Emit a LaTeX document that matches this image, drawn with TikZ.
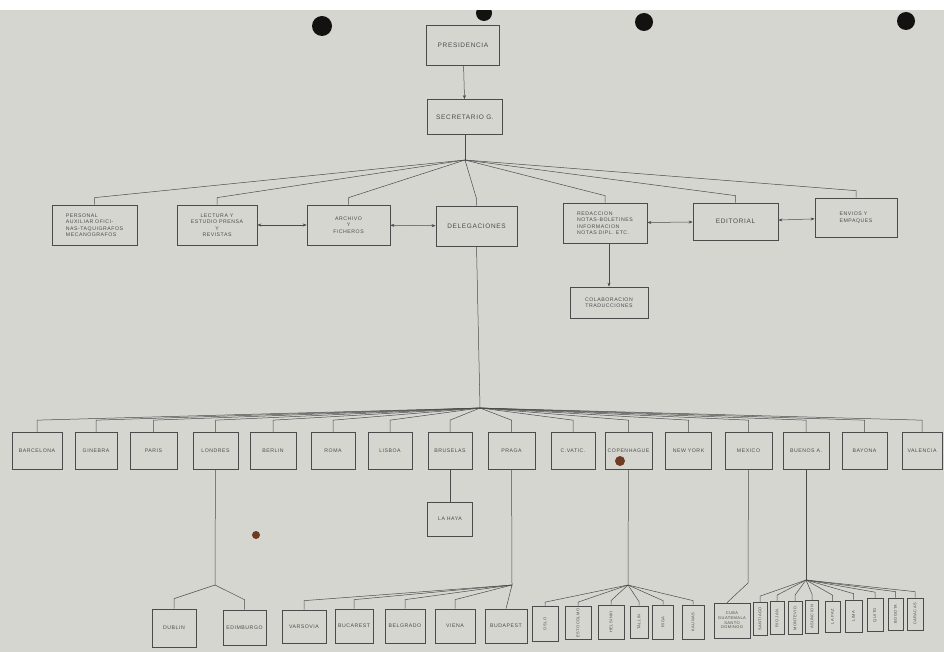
\documentclass[tikz,border=0pt]{standalone}
\usepackage{fontspec}
\setmainfont{Liberation Sans}[LetterSpace=10]
\usepackage{graphicx}
\usetikzlibrary{arrows.meta}
\definecolor{paper}{RGB}{214,214,209}
\definecolor{ink}{RGB}{75,75,75}
\definecolor{hole}{RGB}{20,18,16}
\definecolor{stain}{RGB}{110,60,35}
\tikzset{
  box/.style={draw=ink, line width=0.7pt, text=ink, inner sep=1pt, align=center, font=\fontsize{5.2}{6.5}\selectfont},
  bigbox/.style={box, font=\fontsize{6.5}{8}\selectfont},
  tinybox/.style={box, font=\fontsize{4}{4.6}\selectfont},
  con/.style={draw=ink, line width=0.5pt},
  onearrow/.style={con, -{Stealth[length=4pt,width=3pt]}},
  biarrow/.style={con, {Stealth[length=4pt,width=3pt]}-{Stealth[length=4pt,width=3pt]}},
}
\begin{document}
\begin{tikzpicture}[x=1pt,y=-1pt]
\fill[paper] (0,0) rectangle (944,652);
\useasboundingbox (0,0) rectangle (944,652);
% punch holes and stains
\fill[hole] (322,26) circle (10);
\fill[hole] (484,13) circle (8);
\fill[hole] (644,22) circle (9);
\fill[hole] (906,21) circle (9);
\fill[white] (0,0) rectangle (944,10);
\fill[stain] (256,535) circle (4);

% top
\node[bigbox, minimum width=73, minimum height=40] (pres) at (463,45) {PRESIDENCIA};
\node[bigbox, minimum width=75, minimum height=35] (sec) at (465,117) {SECRETARIO G.};
\draw[onearrow] (pres) -- (sec);
\coordinate (j1) at (465,160);
\draw[con] (sec) -- (j1);

% row 1
\node[box, minimum width=85, minimum height=40, align=left] (pers) at (94.5,225) {PERSONAL\\AUXILIAR OFICI-\\NAS-TAQUIGRAFOS\\MECANOGRAFOS};
\node[box, minimum width=80, minimum height=40] (lect) at (217,225) {LECTURA Y\\ESTUDIO PRENSA\\Y\\REVISTAS};
\node[box, minimum width=83, minimum height=40] (arch) at (348.5,225) {ARCHIVO\\Y\\FICHEROS};
\node[bigbox, minimum width=81, minimum height=40] (deleg) at (476.5,226) {DELEGACIONES};
\node[box, minimum width=84, minimum height=40, align=left] (redac) at (605,223) {REDACCION\\NOTAS-BOLETINES\\INFORMACION\\NOTAS DIPL. ETC.};
\node[bigbox, minimum width=85, minimum height=37] (edit) at (735.5,221.5) {EDITORIAL};
\node[box, minimum width=82, minimum height=39, align=left] (envios) at (856,217.5) {ENVIOS Y\\EMPAQUES};
\node[box, minimum width=78, minimum height=31] (colab) at (609,302.5) {COLABORACION\\TRADUCCIONES};

\foreach \n in {pers,lect,arch,deleg,redac,edit,envios}
  \draw[con] (j1) -- ([yshift=7pt]\n.north) -- (\n.north);
\draw[biarrow] (lect) -- (arch);
\draw[biarrow] (arch) -- (deleg);
\draw[biarrow] (redac) -- (edit);
\draw[biarrow] (edit) -- (envios);
\draw[onearrow] (redac.south -| colab.north) -- (colab.north);

% delegations
\coordinate (j2) at (480,408);
\draw[con] (deleg.south |- 0,246) -- (j2);
\node[box, minimum width=50, minimum height=37] (bar) at (37,451) {BARCELONA};
\node[box, minimum width=42, minimum height=37] (gin) at (96,451) {GINEBRA};
\node[box, minimum width=47, minimum height=37] (par) at (153.5,451) {PARIS};
\node[box, minimum width=45, minimum height=37] (lon) at (215.5,451) {LONDRES};
\node[box, minimum width=46, minimum height=37] (ber) at (273,451) {BERLIN};
\node[box, minimum width=44, minimum height=37] (rom) at (333,451) {ROMA};
\node[box, minimum width=44, minimum height=37] (lis) at (390,451) {LISBOA};
\node[box, minimum width=44, minimum height=37] (bru) at (450,451) {BRUSELAS};
\node[box, minimum width=47, minimum height=37] (pra) at (511.5,451) {PRAGA};
\node[box, minimum width=44, minimum height=37] (cva) at (573,451) {C.VATIC.};
\node[box, minimum width=47, minimum height=37] (cop) at (628.5,451) {COPENHAGUE};
\node[box, minimum width=46, minimum height=37] (ny) at (688.5,451) {NEW YORK};
\node[box, minimum width=47, minimum height=37] (mex) at (748.5,451) {MEXICO};
\node[box, minimum width=46, minimum height=37] (bue) at (806,451) {BUENOS A.};
\node[box, minimum width=45, minimum height=37] (bay) at (864.5,451) {BAYONA};
\node[box, minimum width=40, minimum height=37] (val) at (922,451) {VALENCIA};
\foreach \n in {bar,gin,par,lon,ber,rom,lis,bru,pra,cva,cop,ny,mex,bue,bay,val}
  \draw[con] (j2) -- ([yshift=12pt]\n.north) -- (\n.north);
\fill[stain] (620,461) circle (5);

% Bruselas
\node[box, minimum width=45, minimum height=34] (hay) at (450,519) {LA HAYA};
\draw[con] (bru) -- (hay);

% Londres
\coordinate (j3) at (215,585);
\draw[con] (lon) -- (j3);
\node[box, minimum width=44, minimum height=38] (dub) at (174,628) {DUBLIN};
\node[box, minimum width=43, minimum height=35] (edi) at (244.5,627.5) {EDIMBURGO};
\foreach \n in {dub,edi}
  \draw[con] (j3) -- ([yshift=10pt]\n.north) -- (\n.north);

% Praga
\coordinate (j4) at (512,585);
\draw[con] (pra) -- (j4);
\node[box, minimum width=44, minimum height=33] (var) at (304,626.5) {VARSOVIA};
\node[box, minimum width=38, minimum height=34] (buc) at (354,626) {BUCAREST};
\node[box, minimum width=40, minimum height=34] (bel) at (405,626) {BELGRADO};
\node[box, minimum width=40, minimum height=34] (vie) at (455,626) {VIENA};
\node[box, minimum width=42, minimum height=34] (bud) at (506,626) {BUDAPEST};
\foreach \n in {var,buc,bel,vie}
  \draw[con] (j4) -- ([yshift=9pt]\n.north) -- (\n.north);
\draw[con] (j4) -- (bud.north);

% Copenhague
\coordinate (j5) at (628,585);
\draw[con] (cop) -- (j5);
\node[tinybox, minimum width=26, minimum height=35] (osl) at (545,624) {\rotatebox{90}{OSLO}};
\node[tinybox, minimum width=26, minimum height=33] (est) at (578,623) {\rotatebox{90}{ESTOCOLMO}};
\node[tinybox, minimum width=26, minimum height=34] (hel) at (611,622) {\rotatebox{90}{HELSINKI}};
\node[tinybox, minimum width=18, minimum height=32] (tal) at (639,622) {\rotatebox{90}{TALLIN}};
\node[tinybox, minimum width=21, minimum height=34] (rig) at (663,622) {\rotatebox{90}{RIGA}};
\node[tinybox, minimum width=22, minimum height=34] (kau) at (693,622) {\rotatebox{90}{KAUNAS}};
\foreach \n in {osl,est,hel,tal,rig,kau}
  \draw[con] (j5) -- ([yshift=4pt]\n.north) -- (\n.north);

% Mexico
\coordinate (j6) at (748,583);
\draw[con] (mex) -- (j6);
\node[tinybox, minimum width=36, minimum height=35] (cub) at (732,620.5) {CUBA\\GUATEMALA\\SANTO\\DOMINGO};
\draw[con] (j6) -- ([xshift=-5pt]cub.north);

% Buenos Aires
\coordinate (j7) at (806,580);
\draw[con] (bue) -- (j7);
\node[tinybox, minimum width=14, minimum height=33] (san) at (760,619) {\rotatebox{90}{SANTIAGO}};
\node[tinybox, minimum width=14, minimum height=33] (rio) at (777,618) {\rotatebox{90}{RIO JAN.}};
\node[tinybox, minimum width=14, minimum height=33] (mon) at (795,618) {\rotatebox{90}{MONTEVID.}};
\node[tinybox, minimum width=13, minimum height=33] (asu) at (812,617) {\rotatebox{90}{ASUNCION}};
\node[tinybox, minimum width=15, minimum height=31] (paz) at (832.5,617) {\rotatebox{90}{LA PAZ}};
\node[tinybox, minimum width=17, minimum height=32] (lim) at (853.5,616) {\rotatebox{90}{LIMA}};
\node[tinybox, minimum width=16, minimum height=33] (qui) at (875,615) {\rotatebox{90}{QUITO}};
\node[tinybox, minimum width=15, minimum height=32] (bog) at (895.5,614) {\rotatebox{90}{BOGOTA}};
\node[tinybox, minimum width=16, minimum height=32] (car) at (915,614) {\rotatebox{90}{CARACAS}};
\foreach \n in {san,rio,mon,asu,paz,lim,qui,bog,car}
  \draw[con] (j7) -- ([yshift=6pt]\n.north) -- (\n.north);
\end{tikzpicture}
\end{document}
